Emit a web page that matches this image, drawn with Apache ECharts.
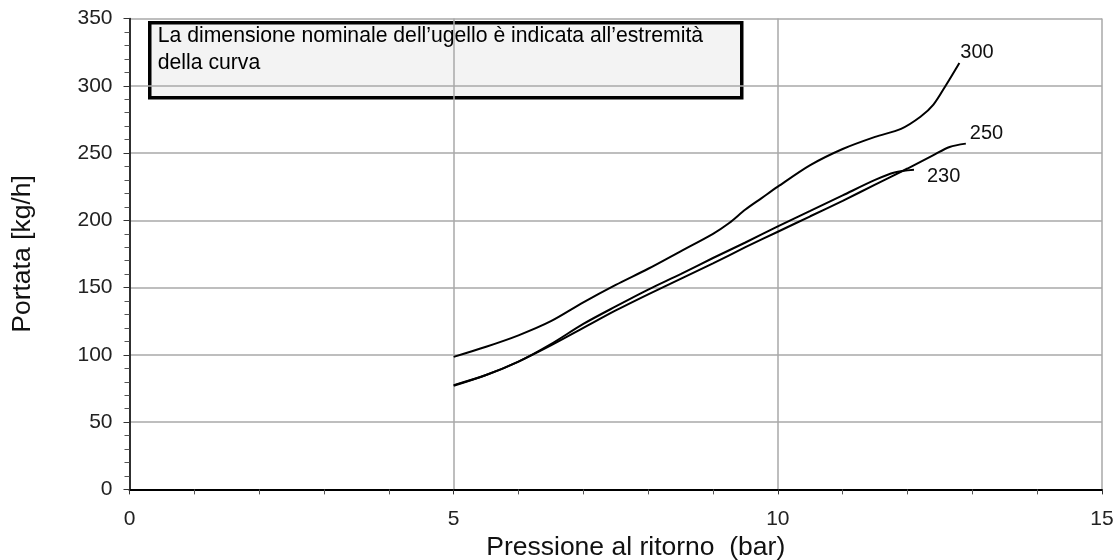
<!DOCTYPE html>
<html>
<head>
<meta charset="utf-8">
<script src="https://cdn.jsdelivr.net/npm/echarts@6/dist/echarts.min.js"></script>
<style>
  html, body { margin: 0; padding: 0; background: #fff; }
  #main { width: 1118px; height: 560px; }
</style>
</head>
<body>
<div id="main"></div>
<script>
// pressione al ritorno (bar) -> portata (kg/h)
var p300 = [5.0, 5.5, 6.0, 6.5, 7.0, 7.5, 8.0, 8.5, 9.0, 9.25, 9.5, 9.75, 10.0, 10.5, 11.0, 11.5, 11.9, 12.2, 12.4, 12.6, 12.8];
var q300 = [98.5, 106, 114.5, 125, 139, 152, 164, 177, 190, 198, 208, 216.5, 225, 241, 253, 262, 268, 277, 286, 301, 317];

var p250 = [5.0, 5.5, 6.0, 6.5, 7.0, 7.5, 8.0, 8.5, 9.0, 9.5, 10.0, 10.5, 11.0, 11.5, 12.0, 12.4, 12.65, 12.9];
var q250 = [77, 85, 95, 107, 120, 133, 145, 156.5, 168, 180, 191.5, 203, 214.5, 226.5, 238.5, 248.5, 254.5, 257];

var p230 = [5.0, 5.5, 6.0, 6.5, 7.0, 7.5, 8.0, 8.5, 9.0, 9.5, 10.0, 10.5, 11.0, 11.5, 11.8, 12.1];
var q230 = [77.5, 85, 95, 108, 123, 136, 148.5, 160, 172, 183.5, 195.5, 207, 218.5, 230, 235.5, 237.5];

var nomi = ["300", "250", "230"];
var note = ["La dimensione nominale dell\u2019ugello \u00e8 indicata all\u2019estremit\u00e0", "della curva"];

function coppie(xs, ys) {
  var out = [];
  for (var i = 0; i < xs.length; i++) out.push([xs[i], ys[i]]);
  return out;
}

var font = "'Liberation Sans', Arial, Helvetica, sans-serif";

function curva(nome, dati, offset) {
  return {
    name: nome,
    type: "line",
    data: dati,
    smooth: 0.3,
    showSymbol: false,
    lineStyle: { color: "#000", width: 2 },
    endLabel: {
      show: true,
      formatter: nome,
      color: "#111",
      fontFamily: font,
      fontSize: 20,
      offset: offset
    }
  };
}

var chart = echarts.init(document.getElementById("main"));
chart.setOption({
  backgroundColor: "#fff",
  animation: false,
  grid: { left: 129.5, right: 16, top: 18.5, bottom: 70.6, outerBoundsMode: "none" },
  xAxis: {
    type: "value",
    min: 0,
    max: 15,
    interval: 5,
    name: "Pressione al ritorno  (bar)",
    nameLocation: "middle",
    nameGap: 45,
    nameTextStyle: { color: "#111", fontFamily: font, fontSize: 26.5, padding: [0, 0, 0, 40] },
    axisLine: { onZero: false, lineStyle: { color: "#000", width: 2 } },
    axisTick: { length: 5, lineStyle: { color: "#333" } },
    minorTick: { show: true, splitNumber: 5, length: 5, lineStyle: { color: "#555" } },
    axisLabel: { color: "#222", fontFamily: font, fontSize: 21, margin: 19 },
    splitLine: { show: true, lineStyle: { color: "#a8a8a8", width: 1.5 } }
  },
  yAxis: {
    type: "value",
    min: 0,
    max: 350,
    interval: 50,
    name: "Portata [kg/h]",
    nameLocation: "middle",
    nameGap: 93,
    nameTextStyle: { color: "#111", fontFamily: font, fontSize: 26.5 },
    axisLine: { show: true, onZero: false, lineStyle: { color: "#000", width: 1.5 } },
    axisTick: { show: true, length: 6, lineStyle: { color: "#333" } },
    minorTick: { show: true, splitNumber: 5, length: 5, lineStyle: { color: "#555" } },
    axisLabel: { color: "#222", fontFamily: font, fontSize: 21, margin: 17 },
    splitLine: { show: true, lineStyle: { color: "#a8a8a8", width: 1.5 } }
  },
  series: [
    curva(nomi[0], coppie(p300, q300), [-7, -10]),
    curva(nomi[1], coppie(p250, q250), [-4, -10]),
    curva(nomi[2], coppie(p230, q230), [5, 7])
  ],
  graphic: [
    {
      type: "group",
      left: 148,
      top: 21,
      children: [
        {
          type: "rect",
          shape: { x: 0, y: 0, width: 592, height: 75 },
          style: { fill: "#f3f3f3", stroke: "#000", lineWidth: 3.5 }
        },
        {
          type: "text",
          x: 8,
          y: 0,
          style: {
            text: note.join("\n"),
            fill: "#000",
            font: "21.2px " + font,
            lineHeight: 27
          }
        }
      ]
    }
  ]
});
</script>
</body>
</html>
